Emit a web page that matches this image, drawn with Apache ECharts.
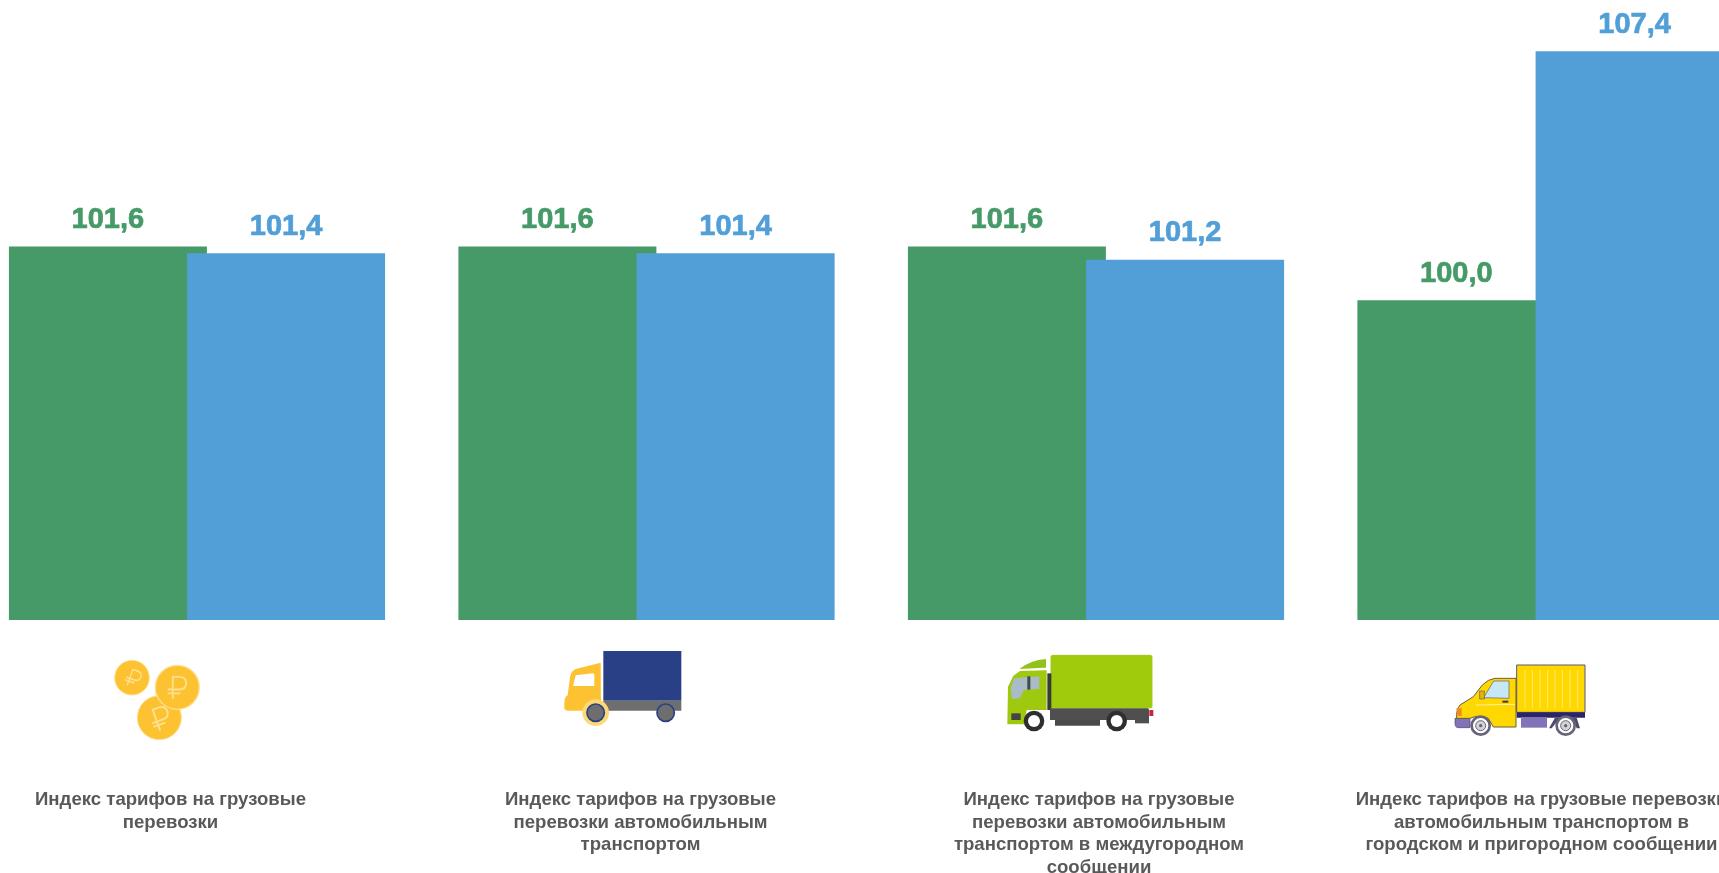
<!DOCTYPE html>
<html>
<head>
<meta charset="utf-8">
<title>Индексы тарифов на грузовые перевозки</title>
<script src="https://cdn.jsdelivr.net/npm/echarts@6/dist/echarts.min.js"></script>
<style>
    html, body { margin: 0; padding: 0; background: #fff; overflow: hidden; }
    #main { width: 1719px; height: 873px; }
</style>
</head>
<body>
<div id="main"></div>
<script>
var categories = [
    'Индекс тарифов на грузовые\nперевозки',
    'Индекс тарифов на грузовые\nперевозки автомобильным\nтранспортом',
    'Индекс тарифов на грузовые\nперевозки автомобильным\nтранспортом в междугородном\nсообщении',
    'Индекс тарифов на грузовые перевозки\nавтомобильным транспортом в\nгородском и пригородном сообщении'
];
var greenValues = [101.6, 101.6, 101.6, 100.0];
var blueValues = [101.4, 101.4, 101.2, 107.4];

var GREEN = '#459a68';
var BLUE = '#529fd8';
var COIN = '#fdc232';
var COIN_LINE = '#ffe08f';
var YELLOW = '#ffd800';
var PURPLE = '#8272b8';
var NAVY = '#2a4086';
var GRAY = '#6e6e6e';

// подписи в оригинале сдвинуты относительно центра группы столбцов
var labelPadding = [[0, 53, 0, 0], [0, 12, 0, 0], [0, 0, 0, 6], [0, 8, 0, 0]];

var myChart = echarts.init(document.getElementById('main'));

function formatValue(params) {
    return params.value.toFixed(1).replace('.', ',');
}

function barSeries(name, values, color) {
    return {
        name: name,
        type: 'bar',
        data: values,
        barWidth: 198,
        barGap: '-10%',
        itemStyle: { color: color },
        label: {
            show: true,
            position: 'top',
            distance: 12,
            formatter: formatValue,
            color: color,
            fontSize: 29,
            fontWeight: 'bold',
            fontFamily: '"Liberation Sans", Arial, sans-serif',
            // в оригинале цифры немного жирнее
            textBorderColor: color,
            textBorderWidth: 0.7
        }
    };
}

function rect(x, y, w, h, fill, extra) {
    var el = { type: 'rect', shape: { x: x, y: y, width: w, height: h }, style: { fill: fill } };
    if (extra) { el.style.stroke = extra.stroke; el.style.lineWidth = extra.lineWidth; el.shape.r = extra.r || 0; }
    return el;
}

function circle(cx, cy, r, fill, stroke, lineWidth) {
    return { type: 'circle', shape: { cx: cx, cy: cy, r: r }, style: { fill: fill, stroke: stroke, lineWidth: lineWidth || 0 } };
}

// в graphic нет типа path, поэтому каждую фигуру регистрируем отдельно
var shapeCount = 0;
function path(d, fill, stroke, lineWidth) {
    var shapeName = 'iconShape' + (shapeCount++);
    echarts.graphic.registerShape(shapeName, echarts.graphic.extendPath(d, {}));
    return { type: shapeName, style: { fill: fill, stroke: stroke, lineWidth: lineWidth || 0 } };
}

// значок рубля рисуем линиями, (cx, cy) - центр монеты
function ruble(cx, cy, size, angle) {
    return {
        type: 'group',
        x: cx,
        y: cy,
        rotation: angle,
        scaleX: size,
        scaleY: size,
        children: [path('M-8 36 L-8 -34 L12 -34 Q34 -34 34 -14 Q34 6 12 6 L-24 6 M-24 18 L16 18', 'none', COIN_LINE, 6)]
    };
}

// каждый значок задаётся в координатах своего кропа, масштаб 1/3
function icon(x, y, children) {
    return { type: 'group', x: x, y: y, scaleX: 1 / 3, scaleY: 1 / 3, silent: true, children: children };
}

var coins = icon(100, 645, [
    circle(96, 98, 52, COIN, '#ffe08f', 3),
    ruble(96, 98, 0.72, -0.35),
    circle(178, 218, 66, COIN, '#ffe08f', 3),
    ruble(176, 222, 0.95, 0.35),
    circle(232, 127, 66, COIN, '#ffe08f', 4),
    ruble(226, 128, 0.95, 0)
]);

var blueTruck = icon(555, 640, [
    rect(145, 33, 234, 149, NAVY),
    rect(145, 182, 234, 30, GRAY),
    path('M137 68 L62 87 Q48 92 45 112 L38 166 Q28 170 28 190 L28 204 Q30 212 40 212 L138 212 Z', COIN),
    path('M62 106 L114 100 Q118 100 118 105 L118 138 L54 138 Z', '#fff'),
    circle(122, 218, 40, '#fdd874'),
    circle(122, 218, 26, GRAY, NAVY, 5),
    circle(332, 218, 26, GRAY, NAVY, 5)
]);

var greenTruck = icon(1000, 645, [
    rect(152, 30, 305, 160, '#9fcb0c', { r: 6, stroke: '#b4d84a', lineWidth: 1 }),
    rect(142, 85, 12, 110, '#3a3a3a'),
    rect(150, 190, 295, 35, '#4f4f4f'),
    rect(165, 225, 135, 17, '#4a4a4a'),
    rect(405, 193, 42, 42, '#4f4f4f'),
    rect(448, 195, 12, 18, '#d0223a'),
    path('M138 42 Q90 46 58 72 L130 68 L138 68 Z', '#93c11a'),
    path('M140 76 L60 78 L40 92 L24 125 L22 238 L72 238 L80 195 L140 195 Z', '#9ec90e'),
    path('M42 100 L118 94 L118 132 L72 134 L60 160 L36 162 L32 130 Z', '#a9bcc6'),
    rect(82, 94, 9, 40, '#3d4a50'),
    rect(34, 205, 28, 20, '#444'),
    circle(102, 228, 31, '#2f2f2f'),
    circle(102, 228, 18, '#fff'),
    circle(350, 228, 31, '#2f2f2f'),
    circle(350, 228, 18, '#fff')
]);

var yellowTruck = icon(1445, 655, [
    rect(215, 30, 205, 142, YELLOW, { stroke: '#5d5578', lineWidth: 3 }),
    path('M240 45 L240 160 M262 45 L262 160 M285 45 L285 160 M308 45 L308 160 M330 45 L330 160 M352 45 L352 160 M375 45 L375 160 M398 45 L398 160', 'none', '#ffe978', 3),
    rect(215, 172, 205, 16, '#2b2467'),
    rect(228, 186, 78, 32, PURPLE),
    path('M330 188 L395 188 L405 220 L395 220 L385 195 L340 195 L320 220 L312 220 Z', '#4f4a68'),
    path('M30 190 L75 190 L75 218 L40 218 Q30 218 30 205 Z', PURPLE, '#4b4373', 2),
    path('M213 70 L150 70 Q130 72 112 90 L85 125 L45 150 Q33 165 35 190 L75 190 Q100 178 130 190 L145 216 L213 216 Z', YELLOW, '#6b5a4a', 3),
    path('M146 78 L192 78 L192 130 L116 128 Z', '#c6e8f5', '#5d5578', 2),
    path('M92 150 L210 148', 'none', '#fff3a8', 3),
    rect(172, 137, 18, 6, '#3b3561'),
    rect(104, 108, 14, 24, '#e6b800', { stroke: '#5d5578', lineWidth: 2 }),
    path('M34 160 L50 160 L50 183 L38 183 Z', '#f08a1d'),
    circle(107, 212, 27, '#fff', '#67647a', 8),
    circle(107, 212, 15, '#d4d4d4', '#67647a', 3),
    circle(107, 212, 5, '#67647a'),
    circle(362, 212, 27, '#fff', '#67647a', 8),
    circle(362, 212, 15, '#d4d4d4', '#67647a', 3),
    circle(362, 212, 5, '#67647a')
]);

var option = {
    animation: false,
    backgroundColor: '#fff',
    grid: {
        left: -27.75,
        top: 31,
        width: 1798,
        height: 589,
        outerBoundsMode: 'none'
    },
    xAxis: {
        type: 'category',
        data: categories.map(function (name, i) {
            return { value: name, textStyle: { padding: labelPadding[i] } };
        }),
        axisLine: { show: false },
        axisTick: { show: false },
        axisLabel: {
            interval: 0,
            margin: 169,
            color: '#595959',
            fontSize: 18.6,
            fontWeight: 'bold',
            lineHeight: 22.5,
            align: 'center',
            fontFamily: '"Liberation Sans", Arial, sans-serif'
        }
    },
    yAxis: {
        type: 'value',
        min: 90.5,
        max: 108,
        show: false
    },
    series: [
        barSeries('green', greenValues, GREEN),
        barSeries('blue', blueValues, BLUE)
    ],
    graphic: { elements: [coins, blueTruck, greenTruck, yellowTruck] }
};

myChart.setOption(option);
window.onresize = function () {
    myChart.resize();
};
</script>
</body>
</html>
